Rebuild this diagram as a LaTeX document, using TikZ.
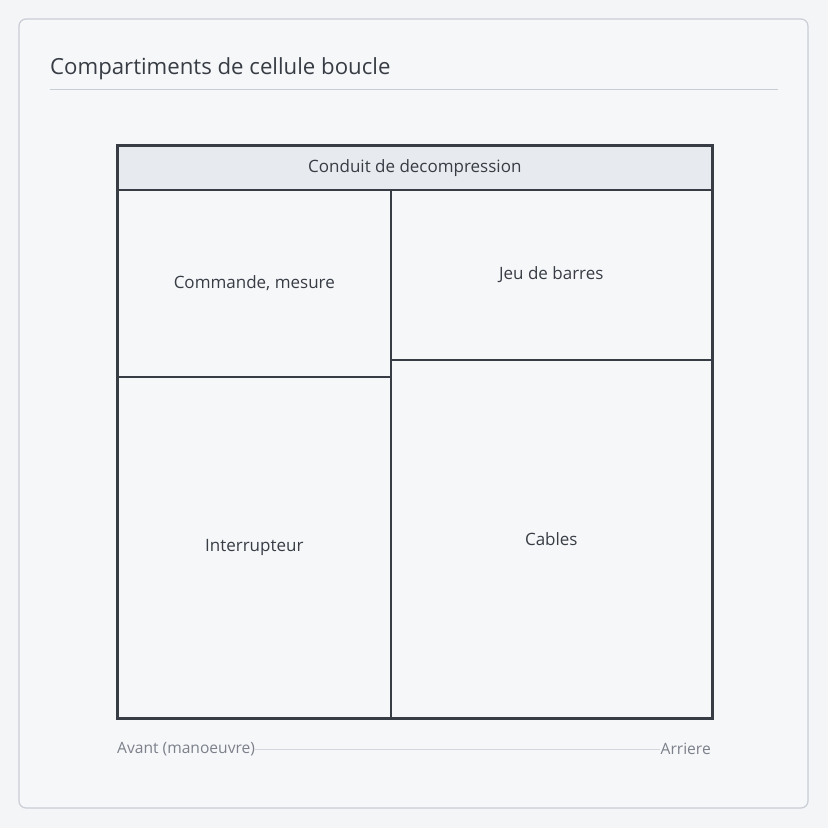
\documentclass[tikz,border=0pt]{standalone}
\usepackage{fontspec}
\setmainfont{Open Sans}
\definecolor{pagebg}{HTML}{F4F5F7}
\definecolor{panelbg}{HTML}{F6F7F9}
\definecolor{panelborder}{HTML}{C9CDD6}
\definecolor{ink}{HTML}{383D45}
\definecolor{headfill}{HTML}{E7EAEE}
\definecolor{muted}{HTML}{7B808A}
\definecolor{axis}{HTML}{D3D6DC}
\tikzset{
  comp/.style={draw=ink, line width=1.6pt, fill=panelbg, inner sep=0pt, anchor=north west,
    font=\fontsize{17}{20}\selectfont, text=ink},
  axislabel/.style={font=\fontsize{15.6}{18}\selectfont, text=muted, inner sep=0pt},
}
\begin{document}
\begin{tikzpicture}[x=1pt,y=-1pt]
\useasboundingbox (0,0) rectangle (828,828);
\fill[pagebg] (0,0) rectangle (828,828);
\draw[panelborder, fill=panelbg, line width=1.2pt, rounded corners=7pt] (19,19) rectangle (808,808);
\node[anchor=base west, inner sep=0pt, text=ink, font=\fontsize{22.2}{26}\selectfont] (title) at (50,74) {Compartiments de cellule boucle};
\draw[panelborder, line width=1pt] (50,89) coordinate (tl) -- (778,89) coordinate (tr);
% compartments
\node[comp, fill=headfill, minimum width=594pt, minimum height=44pt] (head) at (117,145) {Conduit de decompression};
\node[comp, minimum width=273pt, minimum height=187pt] (cmd) at (117,189) {Commande, mesure};
\node[comp, minimum width=273pt, minimum height=341pt] (intr) at (117,376) {Interrupteur};
\node[comp, minimum width=321pt, minimum height=170pt] (jeu) at (390,189) {Jeu de barres};
\node[comp, minimum width=321pt, minimum height=358pt] (cab) at (390,359) {Cables};
\draw[ink, line width=2pt] (head.north west) rectangle (cab.south east);
% axis
\node[axislabel, anchor=west] (avant) at (117,749) {Avant (manoeuvre)};
\node[axislabel, anchor=east] (arr) at (711,749) {Arriere};
\draw[axis, line width=1pt] (avant.east) -- (arr.west);
\end{tikzpicture}
\end{document}
